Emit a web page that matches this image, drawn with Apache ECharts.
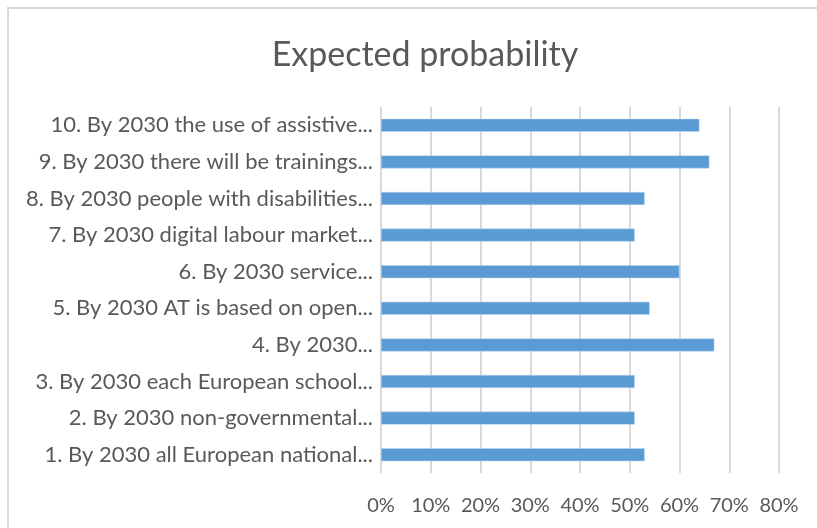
<!DOCTYPE html>
<html>
<head>
<meta charset="utf-8">
<script src="https://cdn.jsdelivr.net/npm/echarts@6/dist/echarts.min.js"></script>
<style>
  html, body { margin: 0; padding: 0; background: #fff; }
  #chart { width: 817px; height: 528px; }
</style>
</head>
<body>
<div id="chart"></div>
<script>
// categories listed bottom to top (ECharts category y-axis starts at the bottom)
const categories = [
  '1. By 2030 all European national...',
  '2. By 2030 non-governmental...',
  '3. By 2030 each European school...',
  '4. By 2030...',
  '5. By 2030 AT is based on open...',
  '6. By 2030 service...',
  '7. By 2030 digital labour market...',
  '8. By 2030 people with disabilities...',
  '9. By 2030 there will be trainings...',
  '10. By 2030 the use of assistive...'
]
const probability = [53, 51, 51, 67, 54, 60, 51, 53, 66, 64]
const tickValues = [0, 10, 20, 30, 40, 50, 60, 70, 80]

const font = 'Lato, "Open Sans", sans-serif'
const chart = echarts.init(document.getElementById('chart'))

const option = {
  backgroundColor: '#fff',
  animation: false,
  title: {
    text: 'Expected probability',
    left: 420,
    top: 33,
    textAlign: 'center',
    textStyle: { fontFamily: font, fontSize: 34, fontWeight: 'normal', color: '#595959' }
  },
  graphic: [
    {
      type: 'rect',
      shape: { x: 8, y: 8, width: 900, height: 600 },
      style: { fill: 'none', stroke: '#d9d9d9', lineWidth: 2 },
      silent: true
    }
  ],
  grid: { left: 381, top: 107, width: 398, height: 366 },
  xAxis: {
    type: 'value',
    min: tickValues[0],
    max: tickValues[tickValues.length - 1],
    interval: 10,
    axisLine: { show: false },
    axisTick: { show: false },
    axisLabel: {
      formatter: '{value}%',
      fontFamily: font,
      fontSize: 20,
      color: '#595959',
      margin: 23
    },
    splitLine: { lineStyle: { color: '#d9d9d9', width: 2 } }
  },
  yAxis: {
    type: 'category',
    data: categories,
    axisLine: { show: false },
    axisTick: { show: false },
    axisLabel: {
      fontFamily: font,
      fontSize: 22,
      color: '#595959',
      margin: 8
    }
  },
  series: [
    {
      type: 'bar',
      data: probability,
      barWidth: 13,
      itemStyle: { color: '#5b9bd5', borderColor: '#bdd7ee', borderWidth: 0.5 }
    }
  ]
}

chart.setOption(option)
</script>
</body>
</html>
